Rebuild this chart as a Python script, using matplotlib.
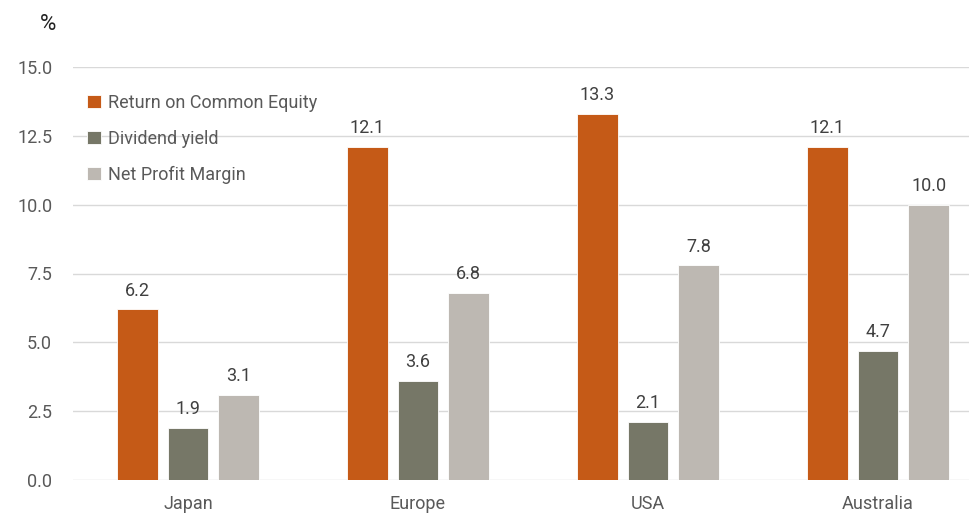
import numpy as np
import matplotlib.pyplot as plt

# ---------------- DATA ---------------- #

regions = ["Japan", "Europe", "USA", "Australia"]
roe = [6.2, 12.1, 13.3, 12.1]
dividend_yield = [1.9, 3.6, 2.1, 4.7]
net_profit_margin = [3.1, 6.8, 7.8, 10.0]

series_names = ["Return on Common Equity", "Dividend yield", "Net Profit Margin"]
colors = ["#C55A17", "#767767", "#BDB8B2"]

plt.rcParams["font.family"] = ["Roboto", "DejaVu Sans"]

# ---------------- CHART ---------------- #

fig = plt.figure(figsize=(9.7, 5.13), dpi=100)
ax = fig.add_axes([73 / 970, 33 / 513, 920 / 970, 413 / 513])

x = np.arange(len(regions))
width = 0.175
step = 0.22

for i, (name, vals) in enumerate(zip(series_names, [roe, dividend_yield, net_profit_margin])):
    bars = ax.bar(
        x + (i - 1) * step,
        vals,
        width=width,
        color=colors[i],
        edgecolor="white",
        linewidth=0.6,
        label=name,
        zorder=3
    )
    for bar in bars:
        height = bar.get_height()
        ax.annotate(
            f"{height:.1f}",
            (bar.get_x() + bar.get_width() / 2, height),
            xytext=(0, 7),
            textcoords="offset points",
            ha="center",
            va="bottom",
            fontsize=13,
            color="#404040"
        )

ax.set_xlim(-0.5, len(regions) - 0.5)
ax.set_ylim(0, 15)
ax.set_yticks(np.arange(0, 15.1, 2.5))
ax.set_yticklabels([f"{v:.1f}" for v in np.arange(0, 15.1, 2.5)])
ax.set_xticks(x)
ax.set_xticklabels(regions)

ax.tick_params(axis="both", length=0, labelsize=13, labelcolor="#595959")
ax.tick_params(axis="y", pad=15)
ax.tick_params(axis="x", pad=11)

ax.grid(axis="y", color="#D9D9D9", linewidth=1, zorder=0)
ax.set_axisbelow(True)

for spine in ax.spines.values():
    spine.set_visible(False)

fig.text(48 / 970, 1 - 25 / 513, "%", fontsize=16, color="#222222", ha="center", va="center")

legend = ax.legend(
    loc="upper left",
    bbox_to_anchor=(-0.002, 0.975),
    frameon=False,
    fontsize=13,
    handlelength=0.75,
    handleheight=0.75,
    handletextpad=0.4,
    labelspacing=1.0,
    labelcolor="#595959"
)

fig.savefig("out.png", dpi=100)
